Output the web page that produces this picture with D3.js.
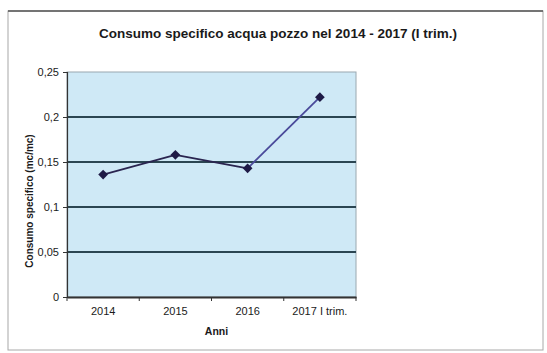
<!DOCTYPE html>
<html>
<head>
<meta charset="utf-8">
<script src="https://cdn.jsdelivr.net/npm/d3@7"></script>
<style>
  html, body { margin: 0; padding: 0; background: #ffffff; }
  svg { display: block; font-family: "Liberation Sans", Arial, sans-serif; }
</style>
</head>
<body>
<svg id="chart" width="547" height="353"></svg>
<script>
// Data
const categories = ["2014", "2015", "2016", "2017 I trim."];
const consumo = [0.136, 0.158, 0.143, 0.222];
const yTicks = [0, 0.05, 0.1, 0.15, 0.2, 0.25];
const titleText = "Consumo specifico acqua pozzo nel 2014 - 2017 (I trim.)";
const yTitle = "Consumo specifico (mc/mc)";
const xTitle = "Anni";

const svg = d3.select("#chart");
const plot = { left: 67, right: 356, top: 72, bottom: 297 };

// Outer chart frame
svg.append("rect")
  .attr("x", 8).attr("y", 11)
  .attr("width", 535).attr("height", 339)
  .attr("fill", "#ffffff")
  .attr("stroke", "#a8a8a8").attr("stroke-width", 1);
svg.append("line")
  .attr("x1", 8).attr("x2", 543).attr("y1", 11).attr("y2", 11)
  .attr("stroke", "#555555").attr("stroke-width", 1.5);

// Title
svg.append("text")
  .attr("x", 278).attr("y", 38)
  .attr("text-anchor", "middle")
  .attr("font-size", 13.5).attr("font-weight", "bold")
  .attr("fill", "#1a1a1a")
  .text(titleText);

const x = d3.scaleBand().domain(categories).range([plot.left, plot.right]);
const y = d3.scaleLinear().domain([0, 0.25]).range([plot.bottom, plot.top]);

// Plot background
svg.append("rect")
  .attr("x", plot.left).attr("y", plot.top)
  .attr("width", plot.right - plot.left).attr("height", plot.bottom - plot.top)
  .attr("fill", "#cfe9f6")
  .attr("stroke", "#9aa8b0").attr("stroke-width", 1);

// Horizontal gridlines
svg.append("g")
  .selectAll("line")
  .data(yTicks.filter(d => d > 0 && d < 0.25))
  .join("line")
  .attr("x1", plot.left).attr("x2", plot.right)
  .attr("y1", d => y(d)).attr("y2", d => y(d))
  .attr("stroke", "#2b4652").attr("stroke-width", 1.8);

const fmt = d => d3.format("")(d).replace(".", ",");

// Y axis
const yAxis = svg.append("g")
  .attr("transform", `translate(${plot.left},0)`)
  .call(d3.axisLeft(y).tickValues(yTicks).tickFormat(fmt).tickSize(4).tickPadding(4));
yAxis.select(".domain").attr("stroke", "#333333").attr("stroke-width", 1.2);
yAxis.selectAll(".tick line").attr("stroke", "#333333");
yAxis.selectAll("text")
  .attr("font-size", 11).attr("fill", "#1a1a1a")
  .attr("font-family", "'Liberation Sans', Arial, sans-serif");

// X axis with ticks at category boundaries
const xAxis = svg.append("g")
  .attr("transform", `translate(0,${plot.bottom})`)
  .call(d3.axisBottom(x).tickSize(0).tickPadding(10));
xAxis.select(".domain").attr("stroke", "#333333").attr("stroke-width", 1.8);
xAxis.selectAll("text")
  .attr("font-size", 11).attr("fill", "#1a1a1a")
  .attr("font-family", "'Liberation Sans', Arial, sans-serif");
xAxis.selectAll("line.boundary")
  .data(categories.map(c => x(c)).concat([plot.right]))
  .join("line")
  .attr("class", "boundary")
  .attr("x1", d => d).attr("x2", d => d)
  .attr("y1", 0).attr("y2", 4)
  .attr("stroke", "#333333").attr("stroke-width", 1);

// Axis titles
svg.append("text")
  .attr("transform", `translate(33,201) rotate(-90)`)
  .attr("text-anchor", "middle")
  .attr("font-size", 10).attr("font-weight", "bold")
  .attr("fill", "#1a1a1a")
  .text(yTitle);
svg.append("text")
  .attr("x", (plot.left + plot.right) / 2 + 5).attr("y", 335)
  .attr("text-anchor", "middle")
  .attr("font-size", 10.5).attr("font-weight", "bold")
  .attr("fill", "#1a1a1a")
  .text(xTitle);

// Series line
const pts = categories.map((c, i) => [x(c) + x.bandwidth() / 2, y(consumo[i])]);
const segColors = ["#2a2550", "#2a2550", "#4a4a9a"];
svg.append("g")
  .selectAll("line")
  .data(d3.pairs(pts))
  .join("line")
  .attr("x1", d => d[0][0]).attr("y1", d => d[0][1])
  .attr("x2", d => d[1][0]).attr("y2", d => d[1][1])
  .attr("stroke", (d, i) => segColors[i])
  .attr("stroke-width", 1.8);

// Diamond markers
svg.append("g")
  .selectAll("path")
  .data(pts)
  .join("path")
  .attr("transform", d => `translate(${d[0]},${d[1]})`)
  .attr("d", d3.symbol().type(d3.symbolDiamond2).size(60))
  .attr("fill", "#1e1a46");
</script>
</body>
</html>
